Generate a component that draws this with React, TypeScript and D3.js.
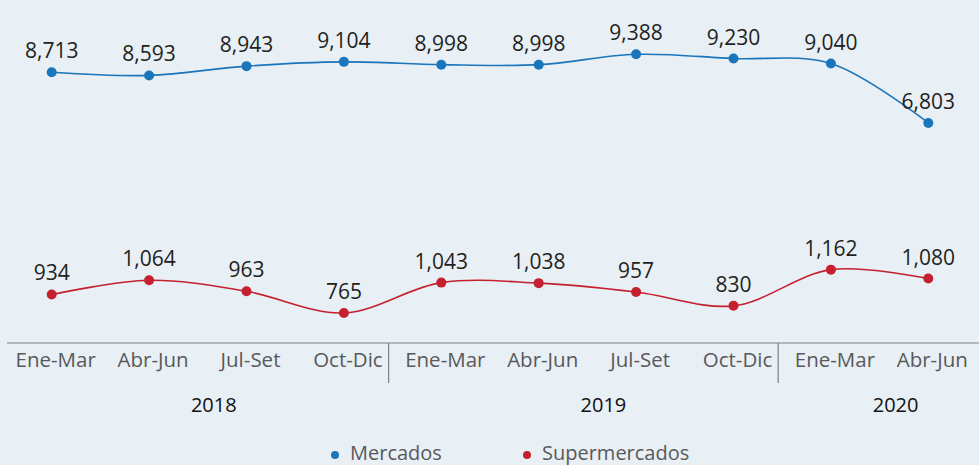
import { useEffect, useRef } from "react";
import * as d3 from "d3";

const periods = ["Ene-Mar", "Abr-Jun", "Jul-Set", "Oct-Dic", "Ene-Mar", "Abr-Jun", "Jul-Set", "Oct-Dic", "Ene-Mar", "Abr-Jun"];
const years = ["2018", "2018", "2018", "2018", "2019", "2019", "2019", "2019", "2020", "2020"];
const mercados = [8713, 8593, 8943, 9104, 8998, 8998, 9388, 9230, 9040, 6803];
const supermercados = [934, 1064, 963, 765, 1043, 1038, 957, 830, 1162, 1080];
const seriesNames = ["Mercados", "Supermercados"];

const W = 979;
const H = 465;
const FONT = "'Open Sans', 'Noto Sans', sans-serif";

function App() {
  const svgRef = useRef<SVGSVGElement | null>(null);

  useEffect(() => {
    const svgEl = svgRef.current;
    if (!svgEl) return;
    const svg = d3.select(svgEl);
    svg.selectAll("*").remove();

    svg.append("rect").attr("width", W).attr("height", H).attr("fill", "#e8eff5");

    const idx = periods.map((_, i) => i);
    const x = d3.scaleBand<number>().domain(idx).range([5, W]).padding(0);
    const cx = (i: number) => (x(i) || 0) + x.bandwidth() / 2 - 2;

    // each series has its own vertical band (broken axis)
    const yM = d3.scaleLinear().domain([6800, 9400]).range([123, 54]);
    const yS = d3.scaleLinear().domain([700, 1200]).range([320, 265.5]);

    const series = [
      { name: seriesNames[0], values: mercados, y: yM, color: "#1a75bb" },
      { name: seriesNames[1], values: supermercados, y: yS, color: "#c4202f" },
    ];

    const fmt = d3.format(",");

    series.forEach((s) => {
      const line = d3
        .line<number>()
        .x((_, i) => cx(i))
        .y((v) => s.y(v))
        .curve(d3.curveCatmullRom.alpha(0.5));

      svg
        .append("path")
        .datum(s.values)
        .attr("fill", "none")
        .attr("stroke", s.color)
        .attr("stroke-width", 1.6)
        .attr("d", line);

      svg
        .selectAll(null)
        .data(s.values)
        .enter()
        .append("circle")
        .attr("cx", (_, i) => cx(i))
        .attr("cy", (v) => s.y(v))
        .attr("r", 5)
        .attr("fill", s.color);

      svg
        .selectAll(null)
        .data(s.values)
        .enter()
        .append("text")
        .attr("x", (_, i) => cx(i))
        .attr("y", (v) => s.y(v) - 14)
        .attr("text-anchor", "middle")
        .attr("font-family", FONT)
        .attr("font-size", 21)
        .attr("fill", "#231f20")
        .text((v) => fmt(v));
    });

    // axis
    const axisY = 343;
    svg
      .append("line")
      .attr("x1", 7)
      .attr("x2", W)
      .attr("y1", axisY)
      .attr("y2", axisY)
      .attr("stroke", "#808285")
      .attr("stroke-width", 1.2);

    svg
      .selectAll(null)
      .data(periods)
      .enter()
      .append("text")
      .attr("x", (_, i) => cx(i) + 4)
      .attr("y", axisY + 24)
      .attr("text-anchor", "middle")
      .attr("font-family", FONT)
      .attr("font-size", 20.5)
      .attr("fill", "#58595b")
      .text((d) => d);

    const groups = d3.groups(idx, (i) => years[i]);
    groups.forEach(([yr, ids], gi) => {
      const x0 = x(ids[0]) || 0;
      const x1 = (x(ids[ids.length - 1]) || 0) + x.bandwidth();
      if (gi > 0) {
        svg
          .append("line")
          .attr("x1", x0 - 6)
          .attr("x2", x0 - 6)
          .attr("y1", axisY)
          .attr("y2", axisY + 40)
          .attr("stroke", "#808285")
          .attr("stroke-width", 1.2);
      }
      svg
        .append("text")
        .attr("x", (x0 + x1) / 2 + 14)
        .attr("y", 412)
        .attr("text-anchor", "middle")
        .attr("font-family", FONT)
        .attr("font-size", 20)
        .attr("fill", "#111")
        .text(yr);
    });

    // legend
    const legendX = [335, 527];
    series.forEach((s, i) => {
      svg
        .append("circle")
        .attr("cx", legendX[i])
        .attr("cy", 455)
        .attr("r", 4)
        .attr("fill", s.color);
      svg
        .append("text")
        .attr("x", legendX[i] + 15)
        .attr("y", 460)
        .attr("font-family", FONT)
        .attr("font-size", 20)
        .attr("fill", "#58595b")
        .text(s.name);
    });
  }, []);

  return (
    <svg
      ref={svgRef}
      width={W}
      height={H}
      style={{ position: "absolute", left: 0, top: 0, display: "block" }}
    />
  );
}

export default App;
